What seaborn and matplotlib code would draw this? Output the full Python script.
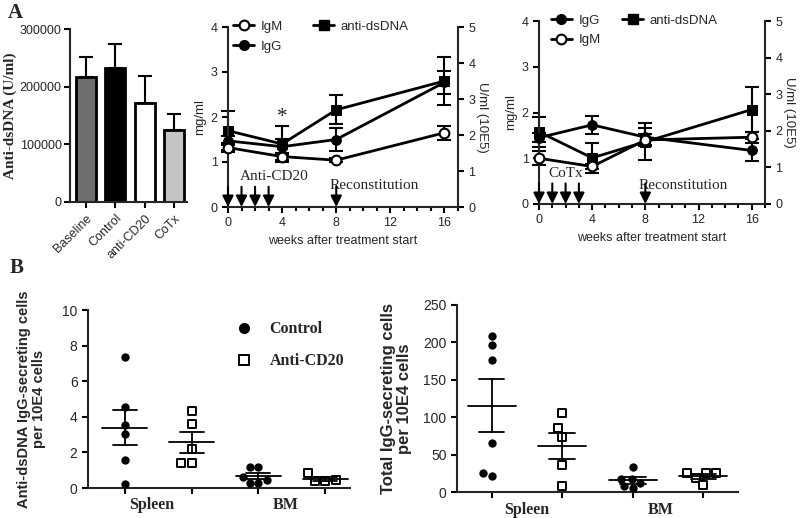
import numpy as np
import pandas as pd
import matplotlib
matplotlib.use("Agg")
import matplotlib.pyplot as plt
import seaborn as sns
from matplotlib.lines import Line2D
from matplotlib.ticker import MultipleLocator
import matplotlib.transforms as mtrans

sns.set_style("ticks")
plt.rcParams["font.family"] = ["Liberation Sans", "DejaVu Sans"]
SERIF = ["Liberation Serif", "DejaVu Serif"]

# ---------------- data ----------------
bar_groups = ["Baseline", "Control", "anti-CD20", "CoTx"]
bar_values = [217000, 232000, 171000, 124000]
bar_errors = [34000, 42000, 48000, 29000]
bar_colors = ["#6e6e6e", "#000000", "#ffffff", "#c4c4c4"]

weeks = [0, 4, 8, 16]
# anti-CD20 panel (IgM, IgG in mg/ml; anti-dsDNA in U/ml 10E5)
cd20_igm = [1.32, 1.12, 1.04, 1.65]
cd20_igm_err = [0.1, 0.07, 0.04, 0.15]
cd20_igg = [1.47, 1.34, 1.50, 2.77]
cd20_igg_err = [0.1, 0.18, 0.26, 0.25]
cd20_dsdna = [2.12, 1.75, 2.70, 3.50]
cd20_dsdna_err = [0.55, 0.5, 0.4, 0.67]
# CoTx panel
cotx_igg = [1.45, 1.73, 1.46, 1.17]
cotx_igg_err = [0.1, 0.2, 0.2, 0.24]
cotx_igm = [1.0, 0.82, 1.40, 1.46]
cotx_igm_err = [0.15, 0.05, 0.12, 0.12]
cotx_dsdna = [1.97, 1.26, 1.70, 2.58]
cotx_dsdna_err = [0.41, 0.4, 0.5, 0.62]
arrow_weeks = [0, 1, 2, 3, 8]

b_order = ["Spleen|Control", "Spleen|Anti-CD20", "BM|Control", "BM|Anti-CD20"]
# anti-dsDNA IgG-secreting cells per 10E4
b1_ctrl_spleen = [7.35, 4.55, 3.55, 3.05, 1.6, 0.25]
b1_cd20_spleen = [4.3, 3.6, 2.2, 1.4, 1.4]
b1_ctrl_bm = [1.2, 1.2, 0.6, 0.45, 0.3, 0.3]
b1_cd20_bm = [0.86, 0.43, 0.42, 0.4]
# total IgG-secreting cells per 10E4
b2_ctrl_spleen = [208, 196, 176, 65, 26, 22]
b2_cd20_spleen = [106, 85, 73, 36, 8]
b2_ctrl_bm = [34, 18, 17, 12, 7.5, 5]
b2_cd20_bm = [26, 25, 25, 19, 9]

LW = 1.5

fig = plt.figure(figsize=(8, 5.18), dpi=100)


def px_axes(l, t, r, b):
    return fig.add_axes([l / 800, 1 - b / 518, (r - l) / 800, (b - t) / 518])


def style_axes(ax):
    for s in ["top", "right"]:
        ax.spines[s].set_visible(False)
    for s in ["left", "bottom"]:
        ax.spines[s].set_linewidth(LW)
    ax.tick_params(width=LW, length=4, direction="out", color="black")


# ---------------- Panel A: bars ----------------
axb = px_axes(70, 29, 187, 202)
sns.barplot(x=bar_groups, y=bar_values, hue=bar_groups, palette=bar_colors,
            legend=False, edgecolor="black", linewidth=2, width=0.68, ax=axb,
            errorbar=None)
axb.errorbar(range(len(bar_groups)), bar_values,
             yerr=[np.zeros(len(bar_errors)), bar_errors], fmt="none",
             ecolor="black", elinewidth=LW, capsize=5, capthick=LW, zorder=1)
axb.set_ylim(0, 300000)
axb.set_xlim(-0.55, 3.44)
axb.set_yticks([0, 100000, 200000, 300000])
axb.set_yticklabels(["0", "100000", "200000", "300000"], fontsize=9)
axb.set_xticks(range(4))
axb.set_xticklabels(bar_groups, rotation=45, ha="right", rotation_mode="anchor", fontsize=9)
axb.set_ylabel("Anti-dsDNA (U/ml)", family=SERIF, fontweight="bold", fontsize=11)
style_axes(axb)
axb.tick_params(axis="y", pad=2)
axb.yaxis.set_label_coords(-0.455, 0.5)


# ---------------- Panel A: time courses ----------------
def time_panel(box, series, legend_cols, label_text, label_x, recon_y, colspace, leg_x):
    ax = px_axes(*box)
    ax2 = ax.twinx()
    ax.set_zorder(ax2.get_zorder() + 1)
    ax.patch.set_visible(False)
    for (vals, errs, kind) in series:
        target = ax2 if kind == "sq" else ax
        if kind == "open":
            mk = dict(marker="o", markerfacecolor="white", markeredgecolor="black", markeredgewidth=1.5)
        elif kind == "fill":
            mk = dict(marker="o", markerfacecolor="black", markeredgecolor="black")
        else:
            mk = dict(marker="s", markerfacecolor="black", markeredgecolor="black")
        target.errorbar(weeks, vals, yerr=errs, fmt="none", ecolor="black",
                        elinewidth=LW, capsize=5, capthick=LW, clip_on=False, zorder=2)
        sns.lineplot(x=weeks, y=vals, ax=target, color="black", linewidth=2,
                     markersize=7, clip_on=False, zorder=3, **mk)
    ax.set_xlim(0, 17)
    ax.set_ylim(0, 4)
    ax2.set_ylim(0, 5)
    ax.set_xticks([0, 4, 8, 12, 16])
    ax.xaxis.set_minor_locator(MultipleLocator(1))
    ax.set_yticks([0, 1, 2, 3, 4])
    ax2.set_yticks([0, 1, 2, 3, 4, 5])
    ax.tick_params(labelsize=9)
    ax2.tick_params(labelsize=9)
    ax.spines["top"].set_visible(False)
    ax2.spines["top"].set_visible(False)
    ax.spines["right"].set_visible(False)
    ax2.spines["left"].set_visible(False)
    ax2.spines["bottom"].set_visible(False)
    ax.spines["left"].set_linewidth(LW)
    ax.spines["bottom"].set_linewidth(LW)
    ax2.spines["right"].set_linewidth(LW)
    ax.tick_params(which="major", width=LW, length=4, color="black")
    ax.tick_params(which="minor", width=LW, length=3, color="black")
    ax2.tick_params(width=LW, length=4, color="black")
    ax.set_ylabel("mg/ml", fontsize=9.5, labelpad=3)
    ax2.set_ylabel("U/ml (10E5)", fontsize=9.5, rotation=270, labelpad=9)
    ax.set_xlabel("weeks after treatment start", fontsize=9, labelpad=4)
    ax2.set_xlabel("")
    for w in arrow_weeks:
        ax.annotate("", xy=(w, 0), xytext=(w, 0.45),
                    arrowprops=dict(arrowstyle="-|>,head_length=0.6,head_width=0.3",
                                    color="black", lw=1.5,
                                    mutation_scale=11, shrinkA=0, shrinkB=0),
                    annotation_clip=False, zorder=5)
    ax.text(label_x, 0.67, label_text, family=SERIF, fontsize=11, ha="center", va="center")
    ax.text(7.5, recon_y, "Reconstitution", family=SERIF, fontsize=11, ha="left", va="center")
    handles = {
        "IgM": Line2D([], [], color="black", lw=2, marker="o", markerfacecolor="white",
                      markeredgecolor="black", markeredgewidth=1.5, markersize=7),
        "IgG": Line2D([], [], color="black", lw=2, marker="o", markerfacecolor="black", markersize=7),
        "anti-dsDNA": Line2D([], [], color="black", lw=2, marker="s", markerfacecolor="black", markersize=7),
    }
    ax.legend([handles[k] for k in legend_cols], legend_cols, ncol=2, frameon=False,
              loc="upper left", bbox_to_anchor=(leg_x, 1.1), fontsize=9.5,
              handlelength=1.6, handletextpad=0.5, columnspacing=colspace, labelspacing=0.55)
    return ax, ax2


ax_cd20, _ = time_panel((228, 27, 458, 207),
                        [(cd20_dsdna, cd20_dsdna_err, "sq"),
                         (cd20_igg, cd20_igg_err, "fill"),
                         (cd20_igm, cd20_igm_err, "open")],
                        ["IgM", "IgG", "anti-dsDNA"], "Anti-CD20", 3.45, 0.47, 2.3, -0.03)
ax_cd20.text(4, 2.0, "*", family=SERIF, fontsize=15, ha="center", va="center")

ax_cotx, _ = time_panel((539, 21, 765, 204),
                        [(cotx_dsdna, cotx_dsdna_err, "sq"),
                         (cotx_igg, cotx_igg_err, "fill"),
                         (cotx_igm, cotx_igm_err, "open")],
                        ["IgG", "IgM", "anti-dsDNA"], "CoTx", 2.0, 0.4, 1.6, 0.0)


# ---------------- Panel B ----------------
def long_df(ctrl_sp, cd20_sp, ctrl_bm, cd20_bm):
    rows = []
    for key, vals in zip(b_order, [ctrl_sp, cd20_sp, ctrl_bm, cd20_bm]):
        for v in vals:
            rows.append({"cell": key, "group": key.split("|")[1], "value": v})
    return pd.DataFrame(rows)


def scatter_panel(box, df, ymax, ystep, ylabel, ylabel_size, labelpad, label_pos, xlim):
    ax = px_axes(*box)
    ctrl = df[df.group == "Control"]
    cd20 = df[df.group == "Anti-CD20"]
    sns.swarmplot(data=ctrl, x="cell", y="value", order=b_order, color="black",
                  size=6, marker="o", ax=ax, clip_on=False, zorder=3)
    sns.swarmplot(data=cd20, x="cell", y="value", order=b_order, color="white",
                  edgecolor="black", linewidth=1.4, size=5.8, marker="s", ax=ax,
                  clip_on=False, zorder=3)
    for i, key in enumerate(b_order):
        v = df[df.cell == key]["value"].to_numpy()
        m = v.mean()
        se = v.std(ddof=1) / np.sqrt(len(v))
        ax.plot([i - 0.34, i + 0.34], [m, m], color="black", lw=1.3, zorder=4)
        ax.plot([i, i], [m - se, m + se], color="black", lw=1.3, zorder=4)
        ax.plot([i - 0.18, i + 0.18], [m + se, m + se], color="black", lw=1.3, zorder=4)
        ax.plot([i - 0.18, i + 0.18], [m - se, m - se], color="black", lw=1.3, zorder=4)
    ax.set_xlim(*xlim)
    ax.set_ylim(0, ymax)
    ax.yaxis.set_major_locator(MultipleLocator(ystep))
    ax.set_xticks(range(4))
    ax.set_xticklabels([])
    ax.set_xlabel("")
    ax.tick_params(labelsize=10)
    ax.set_ylabel(ylabel, fontsize=ylabel_size, fontweight="bold", labelpad=labelpad,
                  linespacing=1.05)
    style_axes(ax)
    trans = mtrans.blended_transform_factory(ax.transData, ax.transAxes)
    for x, txt in zip(label_pos, ["Spleen", "BM"]):
        ax.text(x, -0.095, txt, transform=trans, family=SERIF, fontweight="bold",
                fontsize=11.5, ha="center", va="center")
    return ax


df1 = long_df(b1_ctrl_spleen, b1_cd20_spleen, b1_ctrl_bm, b1_cd20_bm)
ax_b1 = scatter_panel((88, 310, 350, 488), df1, 10, 2,
                      "Anti-dsDNA IgG-secreting cells\nper 10E4 cells", 10.5, 12,
                      [0.4, 2.4], (-0.55, 3.37))
df2 = long_df(b2_ctrl_spleen, b2_cd20_spleen, b2_ctrl_bm, b2_cd20_bm)
ax_b2 = scatter_panel((457, 305, 738, 492), df2, 250, 50,
                      "Total IgG-secreting cells\nper 10E4 cells", 12, 8,
                      [0.5, 2.4], (-0.49, 3.49))

leg_handles = [Line2D([], [], ls="none", marker="o", color="black", markersize=7),
               Line2D([], [], ls="none", marker="s", markerfacecolor="white",
                      markeredgecolor="black", markeredgewidth=1.4, markersize=6.5)]
ax_b1.legend(leg_handles, ["Control", "Anti-CD20"], loc="upper left",
             bbox_to_anchor=(220 / 800, 1 - 307 / 518), bbox_transform=fig.transFigure,
             frameon=False, prop=dict(family=SERIF, weight="bold", size=11.5),
             handletextpad=1.0, labelspacing=1.0, handlelength=1.2)

fig.text(8 / 800, 1 - 13 / 518, "A", family=SERIF, fontweight="bold", fontsize=15, va="center")
fig.text(10 / 800, 1 - 268 / 518, "B", family=SERIF, fontweight="bold", fontsize=15, va="center")

fig.savefig("out.png", dpi=100)
